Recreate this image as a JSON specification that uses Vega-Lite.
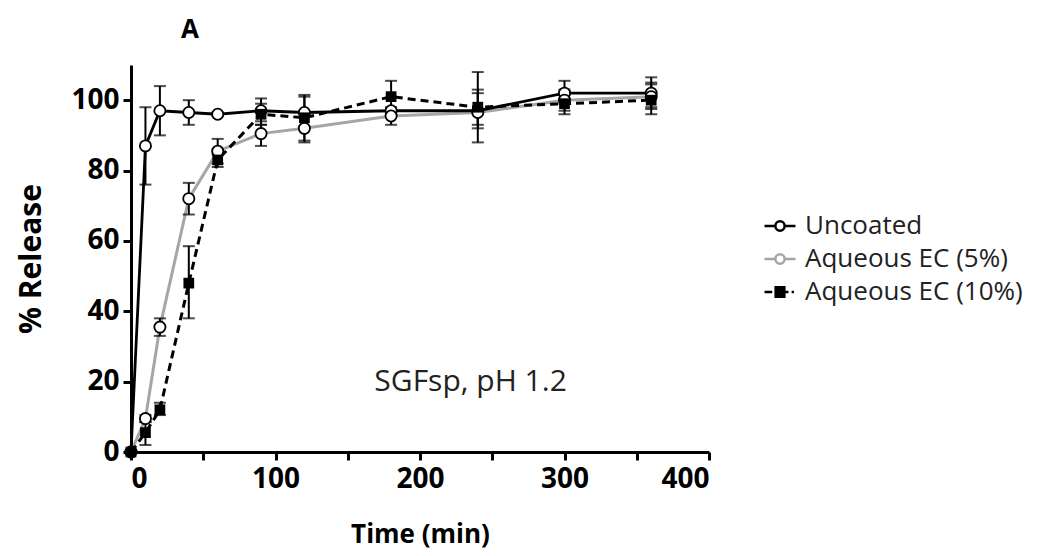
{
  "$schema": "https://vega.github.io/schema/vega-lite/v6.json",
  "autosize": "none",
  "width": 578,
  "height": 387,
  "padding": {"left": 131, "top": 65, "right": 338, "bottom": 104},
  "background": "white",
  "title": {"text": "A", "anchor": "start", "frame": "group", "dx": 50, "offset": 22, "fontSize": 26, "fontWeight": "bold", "font": "Open Sans", "color": "black"},
  "data": {"values": [
    {"series": "Uncoated", "time": 0, "y": 0, "lo": 0, "hi": 0},
    {"series": "Uncoated", "time": 10, "y": 87, "lo": 76, "hi": 98},
    {"series": "Uncoated", "time": 20, "y": 97, "lo": 90, "hi": 104},
    {"series": "Uncoated", "time": 40, "y": 96.5, "lo": 93, "hi": 100},
    {"series": "Uncoated", "time": 60, "y": 96, "lo": 95.5, "hi": 96.5},
    {"series": "Uncoated", "time": 90, "y": 97, "lo": 94, "hi": 100.5},
    {"series": "Uncoated", "time": 120, "y": 96.5, "lo": 92.5, "hi": 101},
    {"series": "Uncoated", "time": 180, "y": 97, "lo": 96, "hi": 98},
    {"series": "Uncoated", "time": 240, "y": 97, "lo": 88, "hi": 108},
    {"series": "Uncoated", "time": 300, "y": 102, "lo": 99, "hi": 105.5},
    {"series": "Uncoated", "time": 360, "y": 102, "lo": 98, "hi": 106.5},
    {"series": "Aqueous EC (5%)", "time": 0, "y": 0, "lo": 0, "hi": 0},
    {"series": "Aqueous EC (5%)", "time": 10, "y": 9.5, "lo": 8.5, "hi": 10.5},
    {"series": "Aqueous EC (5%)", "time": 20, "y": 35.5, "lo": 33, "hi": 38},
    {"series": "Aqueous EC (5%)", "time": 40, "y": 72, "lo": 67.5, "hi": 76.5},
    {"series": "Aqueous EC (5%)", "time": 60, "y": 85.5, "lo": 81, "hi": 89},
    {"series": "Aqueous EC (5%)", "time": 90, "y": 90.5, "lo": 87, "hi": 93},
    {"series": "Aqueous EC (5%)", "time": 120, "y": 92, "lo": 88, "hi": 96},
    {"series": "Aqueous EC (5%)", "time": 180, "y": 95.5, "lo": 93, "hi": 97.5},
    {"series": "Aqueous EC (5%)", "time": 240, "y": 96.5, "lo": 92, "hi": 102},
    {"series": "Aqueous EC (5%)", "time": 300, "y": 100, "lo": 97, "hi": 103},
    {"series": "Aqueous EC (5%)", "time": 360, "y": 101, "lo": 97.5, "hi": 104.5},
    {"series": "Aqueous EC (10%)", "time": 0, "y": 0, "lo": 0, "hi": 0},
    {"series": "Aqueous EC (10%)", "time": 10, "y": 5.5, "lo": 2, "hi": 8.5},
    {"series": "Aqueous EC (10%)", "time": 20, "y": 12, "lo": 10.5, "hi": 14},
    {"series": "Aqueous EC (10%)", "time": 40, "y": 48, "lo": 38, "hi": 58.5},
    {"series": "Aqueous EC (10%)", "time": 60, "y": 83, "lo": 82, "hi": 84.5},
    {"series": "Aqueous EC (10%)", "time": 90, "y": 96, "lo": 93, "hi": 99},
    {"series": "Aqueous EC (10%)", "time": 120, "y": 95, "lo": 88.5, "hi": 101.5},
    {"series": "Aqueous EC (10%)", "time": 180, "y": 101, "lo": 96.5, "hi": 105.5},
    {"series": "Aqueous EC (10%)", "time": 240, "y": 98, "lo": 93, "hi": 103},
    {"series": "Aqueous EC (10%)", "time": 300, "y": 99, "lo": 96, "hi": 102},
    {"series": "Aqueous EC (10%)", "time": 360, "y": 100, "lo": 96, "hi": 105}
  ]},
  "encoding": {
    "x": {"field": "time", "type": "quantitative", "scale": {"domain": [0, 400], "nice": false},
      "axis": {"title": "Time (min)", "values": [0, 50, 100, 150, 200, 250, 300, 350, 400], "labelExpr": "datum.value % 100 === 0 ? datum.label : ''", "titlePadding": 28, "labelPadding": 5, "titleFontSize": 26}}
  },
  "layer": [
    {
      "transform": [{"filter": "datum.series === 'Aqueous EC (5%)'"}],
      "mark": {"type": "line", "strokeWidth": 3, "color": "#a6a6a6"},
      "encoding": {
        "y": {"field": "y", "type": "quantitative", "scale": {"domain": [0, 110], "nice": false},
          "axis": {"title": "% Release", "values": [0, 20, 40, 60, 80, 100], "titlePadding": 24, "labelPadding": 4, "titleFontSize": 30}},
        "order": {"field": "time", "type": "quantitative"}
      }
    },
    {
      "transform": [{"filter": "datum.series === 'Uncoated'"}],
      "mark": {"type": "line", "strokeWidth": 2.8, "color": "black"},
      "encoding": {
        "y": {"field": "y", "type": "quantitative", "title": "% Release"},
        "order": {"field": "time", "type": "quantitative"}
      }
    },
    {
      "transform": [{"filter": "datum.series === 'Aqueous EC (10%)'"}],
      "mark": {"type": "line", "strokeWidth": 3, "color": "black", "strokeDash": [8, 5]},
      "encoding": {
        "y": {"field": "y", "type": "quantitative", "title": "% Release"},
        "order": {"field": "time", "type": "quantitative"}
      }
    },
    {
      "mark": {"type": "errorbar", "ticks": true, "size": 12, "thickness": 2, "color": "black"},
      "encoding": {
        "y": {"field": "lo", "type": "quantitative", "title": "% Release"},
        "y2": {"field": "hi"}
      }
    },
    {
      "transform": [{"filter": "datum.series !== 'Aqueous EC (10%)'"}],
      "mark": {"type": "point", "shape": "circle", "size": 125, "filled": false, "fill": "white", "fillOpacity": 1, "stroke": "black", "strokeWidth": 1.8, "opacity": 1},
      "encoding": {"y": {"field": "y", "type": "quantitative", "title": "% Release"}}
    },
    {
      "transform": [{"filter": "datum.series === 'Aqueous EC (10%)'"}],
      "mark": {"type": "point", "shape": "square", "size": 115, "filled": true, "color": "black", "opacity": 1},
      "encoding": {"y": {"field": "y", "type": "quantitative", "title": "% Release"}}
    },
    {
      "mark": {"type": "point", "opacity": 0, "size": 10},
      "encoding": {
        "y": {"field": "y", "type": "quantitative", "title": "% Release"},
        "shape": {"field": "series", "type": "nominal", "scale": {"domain": ["Uncoated", "Aqueous EC (5%)", "Aqueous EC (10%)"], "range": [
          "M-1,0H-0.3M0.3,0H1M-0.3,0A0.3,0.3,0,1,1,0.3,0A0.3,0.3,0,1,1,-0.3,0Z",
          "M-1,0H-0.3M0.3,0H1M-0.3,0A0.3,0.3,0,1,1,0.3,0A0.3,0.3,0,1,1,-0.3,0Z",
          "M-1,0H-0.5M0.35,0H0.55M0.75,0H0.9M-0.28,-0.3H0.28V0.3H-0.28Z"
        ]}, "legend": {"title": null}},
        "stroke": {"field": "series", "type": "nominal", "scale": {"domain": ["Uncoated", "Aqueous EC (5%)", "Aqueous EC (10%)"], "range": ["#000000", "#a6a6a6", "#000000"]}, "legend": {"title": null}},
        "fill": {"field": "series", "type": "nominal", "scale": {"domain": ["Uncoated", "Aqueous EC (5%)", "Aqueous EC (10%)"], "range": ["#ffffff", "#ffffff", "#000000"]}, "legend": {"title": null}}
      }
    },
    {
      "data": {"values": [{"label": "SGFsp, pH 1.2", "t": 235, "v": 20}]},
      "mark": {"type": "text", "font": "Open Sans", "fontSize": 30, "color": "#222222", "align": "center", "baseline": "middle"},
      "encoding": {
        "x": {"field": "t", "type": "quantitative"},
        "y": {"field": "v", "type": "quantitative", "title": "% Release"},
        "text": {"field": "label"}
      }
    }
  ],
  "config": {
    "view": {"stroke": null},
    "axis": {"grid": false, "domainColor": "black", "domainWidth": 3, "tickColor": "black", "tickWidth": 3, "tickSize": 8,
      "labelFont": "Open Sans", "labelFontWeight": "bold", "labelFontSize": 28, "labelColor": "black",
      "titleFont": "Open Sans", "titleFontWeight": "bold", "titleFontSize": 26, "titleColor": "black"},
    "legend": {"orient": "none", "legendX": 632, "legendY": 144, "labelFont": "Open Sans", "labelFontSize": 26, "labelColor": "#222222", "labelLimit": 0,
      "symbolSize": 960, "symbolStrokeWidth": 2.5, "symbolOpacity": 1, "rowPadding": 3, "labelOffset": 8}
  }
}
